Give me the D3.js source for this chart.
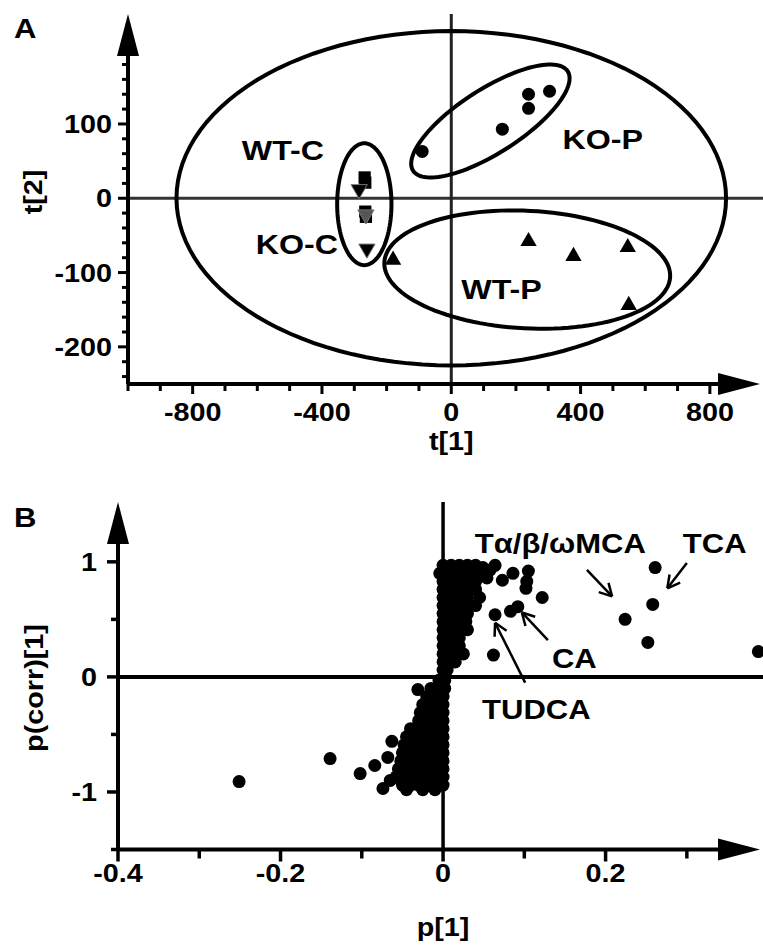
<!DOCTYPE html>
<html>
<head>
<meta charset="utf-8">
<script src="https://cdn.jsdelivr.net/npm/d3@7"></script>
<style>
body { margin: 0; background: #fff; }
text { font-family: "Liberation Sans", Arial, sans-serif; font-weight: bold; fill: #000; }
</style>
</head>
<body>
<div id="chart"></div>
<script>
// ---------- panel A: scores t[1] / t[2] ----------
const koP = [[-90, 63], [158, 93], [239, 121], [239, 140], [304, 144]];
const wtP = [[-180, -83], [239, -58], [378, -78], [546, -66], [549, -144]];
const wtC = [[-268, 28], [-266, 21], [-266, -18], [-264, -25]];
const koC = [[-285, 12], [-264, -22], [-261, -68]];

// ellipses: centre + two conjugate semi-axes (data units)
const ellipses = [
    { cx: 0, cy: 0, ax: 850, ay: 0, bx: 0, by: 225 },        // Hotelling T2
    { cx: 121, cy: 104, ax: 239, ay: 67, bx: 54, by: -36 },   // KO-P
    { cx: -269, cy: -8, ax: 84, ay: 0, bx: 0, by: 82 },       // WT-C / KO-C
    { cx: 235, cy: -96, ax: 442, ay: -10, bx: -10, by: -79 }  // WT-P
];

const groupLabels = [
    { text: "WT-C", x: -648, y: 52 },
    { text: "KO-C", x: -605, y: -75 },
    { text: "KO-P", x: 344, y: 66 },
    { text: "WT-P", x: 31, y: -136 }
];

const aXLabels = [-800, -400, 0, 400, 800];
const aYLabels = [-200, -100, 0, 100];

// ---------- panel B: loadings p[1] / p(corr)[1] ----------
// dense cloud near p[1] = 0, listed row by row: [p(corr), [p values]]
const cloudRows = [
    [0.97, [0, 0.01, 0.02, 0.03, 0.04]],
    [0.90, [-0.004, 0.01, 0.02, 0.03, 0.04, 0.045]],
    [0.83, [0, 0.01, 0.02, 0.03, 0.04]],
    [0.76, [0, 0.01, 0.02, 0.03, 0.04]],
    [0.69, [0, 0.01, 0.02, 0.03, 0.045]],
    [0.62, [0, 0.01, 0.02, 0.03, 0.04]],
    [0.55, [0, 0.01, 0.02, 0.03]],
    [0.48, [0, 0.01, 0.02, 0.028]],
    [0.41, [0, 0.01, 0.02, 0.03]],
    [0.34, [0, 0.01, 0.02]],
    [0.27, [0, 0.01, 0.02]],
    [0.20, [0, 0.01, 0.02, 0.025]],
    [0.13, [0, 0.01, 0.015]],
    [0.06, [0, 0.005]],
    [-0.03, [-0.005, 0.002]],
    [-0.10, [-0.015, -0.005, 0.002]],
    [-0.17, [-0.02, -0.01, 0]],
    [-0.24, [-0.025, -0.015, -0.005, 0]],
    [-0.31, [-0.028, -0.018, -0.008, 0]],
    [-0.38, [-0.03, -0.02, -0.01, 0]],
    [-0.45, [-0.04, -0.03, -0.02, -0.01, 0]],
    [-0.52, [-0.045, -0.035, -0.025, -0.015, -0.005, 0]],
    [-0.59, [-0.048, -0.038, -0.028, -0.018, -0.008, 0]],
    [-0.66, [-0.05, -0.04, -0.03, -0.02, -0.01, 0]],
    [-0.73, [-0.052, -0.042, -0.032, -0.022, -0.012, 0]],
    [-0.80, [-0.055, -0.045, -0.035, -0.025, -0.015, -0.005, 0]],
    [-0.87, [-0.058, -0.048, -0.038, -0.028, -0.018, -0.008, 0]],
    [-0.94, [-0.05, -0.04, -0.03, -0.02, -0.01, 0]],
    [-0.98, [-0.045, -0.025, -0.01]]
];
const outliers = [
    [0.064, 0.97], [0.086, 0.90], [0.105, 0.92], [0.103, 0.83], [0.102, 0.77],
    [0.122, 0.69], [0.092, 0.61], [0.083, 0.57], [0.064, 0.54], [0.062, 0.19],
    [0.058, 0.93], [0.073, 0.84], [0.054, 0.86], [0.049, 0.95],
    [0.224, 0.50], [0.261, 0.95], [0.258, 0.63], [0.252, 0.30], [0.388, 0.22],
    [-0.031, -0.11], [-0.063, -0.56], [-0.084, -0.77], [-0.102, -0.84],
    [-0.068, -0.70], [-0.065, -0.90], [-0.074, -0.97], [-0.251, -0.91], [-0.139, -0.71]
];
const annotations = [
    { text: "Tα/β/ωMCA", tx: 0.039, ty: 1.08, from: [0.177, 0.93], to: [0.208, 0.70] },
    { text: "TCA", tx: 0.295, ty: 1.08, from: [0.300, 0.99], to: [0.276, 0.77] },
    { text: "CA", tx: 0.134, ty: 0.08, from: [0.129, 0.32], to: [0.097, 0.56] },
    { text: "TUDCA", tx: 0.048, ty: -0.37, from: [0.101, -0.05], to: [0.064, 0.47] }
];

const bXLabels = [-0.4, -0.2, 0, 0.2];
const bYLabels = [-1, 0, 1];

// ---------- drawing ----------
const svgWidth = 763;
const svgHeight = 946;
const SX = 1.15;   // the original lettering is a bit wide

const svg = d3.select("#chart")
    .append("svg")
    .attr("width", svgWidth)
    .attr("height", svgHeight);

function label(x, y, s, size, anchor, rotate) {
    svg.append("text")
        .attr("transform", `translate(${x},${y})${rotate ? " rotate(-90)" : ""} scale(${SX},1)`)
        .attr("text-anchor", anchor)
        .attr("font-size", size)
        .text(s);
}

function line(x1, y1, x2, y2, w, color) {
    svg.append("line")
        .attr("x1", x1).attr("y1", y1).attr("x2", x2).attr("y2", y2)
        .attr("stroke", color || "#000")
        .attr("stroke-width", w);
}

// filled arrow head, tip at (x, y)
function arrowHead(x, y, dir) {
    const L = 42, h = 11;
    const pts = dir === "up"
        ? [[x, y], [x - h, y + L], [x + h, y + L]]
        : [[x, y], [x - L, y - h], [x - L, y + h]];
    svg.append("polygon").attr("points", pts.map(p => p.join(",")).join(" ")).attr("fill", "#000");
}

// ---- Panel A ----
const xA = d3.scaleLinear().domain([-1000, 955]).range([128, 760]);
const yA = d3.scaleLinear().domain([-250, 248]).range([384, 14]);

// zero lines
line(xA(-1000), yA(0), svgWidth, yA(0), 3, "#333");
line(xA(0), yA(248), xA(0), yA(-250), 3, "#222");

// ellipses
const ellipseLine = d3.line().curve(d3.curveLinearClosed);
ellipses.forEach(e => {
    const pts = d3.range(0, 360, 3).map(a => {
        const t = a * Math.PI / 180;
        return [xA(e.cx + e.ax * Math.cos(t) + e.bx * Math.sin(t)),
                yA(e.cy + e.ay * Math.cos(t) + e.by * Math.sin(t))];
    });
    svg.append("path")
        .attr("d", ellipseLine(pts))
        .attr("fill", "none")
        .attr("stroke", "#000")
        .attr("stroke-width", 4);
});

// axes
line(xA(-1000), yA(-250), xA(-1000), yA(248) + 30, 4);
line(xA(-1000), yA(-250), xA(955) - 30, yA(-250), 4);
arrowHead(xA(-1000), yA(248), "up");
arrowHead(xA(955), yA(-250), "right");

d3.range(-240, 181, 20).forEach(v => {
    const major = aYLabels.includes(v);
    line(xA(-1000) - (major ? 10 : 6), yA(v), xA(-1000), yA(v), 3);
});
d3.range(-1000, 801, 100).forEach(v => {
    const major = aXLabels.includes(v);
    line(xA(v), yA(-250), xA(v), yA(-250) + (major ? 10 : 7), 3);
});
aYLabels.forEach(v => label(xA(-1000) - 16, yA(v) + 9, v, 25, "end"));
aXLabels.forEach(v => label(xA(v), yA(-250) + 37, v, 25, "middle"));
label(xA(0), 450, "t[1]", 25, "middle");
label(42, 192, "t[2]", 25, "middle", true);
label(14, 38, "A", 27, "start");

// markers
svg.selectAll("circle.kop").data(koP).enter().append("circle")
    .attr("cx", d => xA(d[0])).attr("cy", d => yA(d[1])).attr("r", 6.5).attr("fill", "#000");
svg.selectAll("path.wtp").data(wtP).enter().append("path")
    .attr("d", d3.symbol(d3.symbolTriangle, 115))
    .attr("transform", d => `translate(${xA(d[0])},${yA(d[1])})`)
    .attr("fill", "#000");
svg.selectAll("path.wtc").data(wtC).enter().append("path")
    .attr("d", d3.symbol(d3.symbolSquare, 150))
    .attr("transform", d => `translate(${xA(d[0])},${yA(d[1])})`)
    .attr("fill", "#000");
svg.selectAll("path.koc").data(koC).enter().append("path")
    .attr("d", d3.symbol(d3.symbolTriangle, 115))
    .attr("transform", d => `translate(${xA(d[0])},${yA(d[1])}) rotate(180)`)
    .attr("fill", (d, i) => i === 1 ? "#555" : "#000")
    .attr("stroke", "#777")
    .attr("stroke-width", 1);

groupLabels.forEach(g => label(xA(g.x), yA(g.y), g.text, 28, "start"));

// ---- Panel B ----
const xB = d3.scaleLinear().domain([-0.4, 0.39]).range([118, 760]);
const yB = d3.scaleLinear().domain([-1.5, 1.52]).range([849.5, 502]);

line(xB(-0.4), yB(0), svgWidth, yB(0), 4);
line(xB(0), yB(1.52), xB(0), yB(-1.5), 3.5);

line(xB(-0.4), yB(-1.5), xB(-0.4), yB(1.52) + 30, 4);
line(xB(-0.4), yB(-1.5), xB(0.39) - 30, yB(-1.5), 4);
arrowHead(xB(-0.4), yB(1.52), "up");
arrowHead(xB(0.39), yB(-1.5), "right");

[-1.5, -1, -0.5, 0, 0.5, 1].forEach(v => {
    const major = bYLabels.includes(v);
    line(xB(-0.4) - (major ? 11 : 7), yB(v), xB(-0.4), yB(v), 3.5);
});
[-0.4, -0.3, -0.2, -0.1, 0, 0.1, 0.2, 0.3].forEach(v => {
    const major = bXLabels.includes(v);
    line(xB(v), yB(-1.5), xB(v), yB(-1.5) + (major ? 12 : 9), 3.5);
});
bYLabels.forEach(v => label(xB(-0.4) - 21, yB(v) + 9, v, 25, "end"));
bXLabels.forEach(v => label(xB(v), 882, v, 25, "middle"));
label(xB(0), 936, "p[1]", 25, "middle");
label(43, 688, "p(corr)[1]", 25, "middle", true);
label(14, 527, "B", 27, "start");

const cloud = cloudRows.flatMap(r => r[1].map(x => [x, r[0]]));
svg.selectAll("circle.load").data(cloud.concat(outliers)).enter().append("circle")
    .attr("cx", d => xB(d[0])).attr("cy", d => yB(d[1])).attr("r", 6.5).attr("fill", "#000");

annotations.forEach(a => {
    label(xB(a.tx), yB(a.ty), a.text, 27, "start");
    const x1 = xB(a.from[0]), y1 = yB(a.from[1]), x2 = xB(a.to[0]), y2 = yB(a.to[1]);
    line(x1, y1, x2, y2, 2.5);
    const ang = Math.atan2(y1 - y2, x1 - x2);
    [-0.5, 0.5].forEach(d => {
        line(x2, y2, x2 + 14 * Math.cos(ang + d), y2 + 14 * Math.sin(ang + d), 2.5);
    });
});
</script>
</body>
</html>
